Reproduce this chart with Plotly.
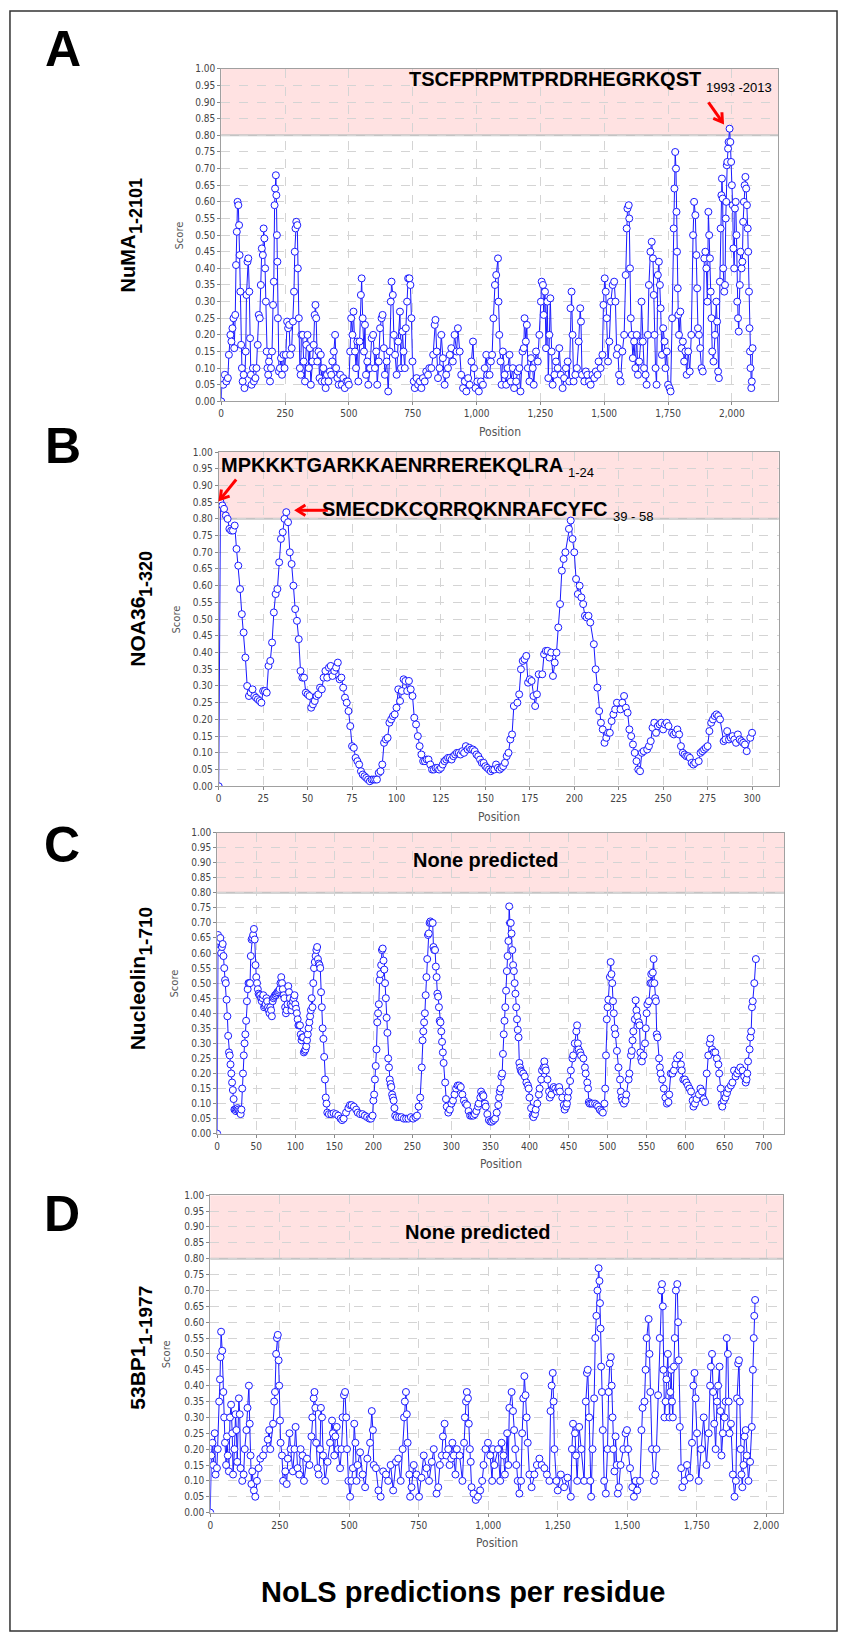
import math
import plotly.graph_objects as go

W, H = 842, 1642

# ---------------- data (position, score) ----------------
numa_points = [
    (0, 0.0), (3, 0.07), (8, 0.05), (14, 0.08), (20, 0.06), (26, 0.07), (30, 0.14), (36, 0.20), (40, 0.18),
    (44, 0.22), (48, 0.25), (51, 0.16), (55, 0.26), (58, 0.41), (61, 0.51), (64, 0.60), (67, 0.59), (70, 0.53),
    (72, 0.44), (75, 0.33), (78, 0.17), (81, 0.10), (84, 0.06), (88, 0.08), (91, 0.04), (96, 0.15), (99, 0.32),
    (103, 0.42), (106, 0.43), (110, 0.33), (113, 0.19), (116, 0.08), (119, 0.05), (124, 0.10), (128, 0.06),
    (134, 0.07), (138, 0.10), (143, 0.17), (147, 0.26), (151, 0.25), (155, 0.35), (159, 0.46), (163, 0.44),
    (166, 0.52), (169, 0.49), (172, 0.40), (175, 0.30), (178, 0.15), (181, 0.10), (184, 0.08), (187, 0.12),
    (191, 0.06), (195, 0.10), (199, 0.15), (203, 0.29), (206, 0.36), (209, 0.59), (211, 0.64), (214, 0.68),
    (216, 0.62), (218, 0.50), (220, 0.42), (222, 0.25), (226, 0.09), (230, 0.10), (234, 0.13), (238, 0.08),
    (244, 0.14), (248, 0.10), (253, 0.14), (258, 0.24), (262, 0.22), (266, 0.23), (270, 0.14), (276, 0.16),
    (281, 0.24), (285, 0.33), (288, 0.45), (291, 0.52), (294, 0.54), (298, 0.53), (300, 0.40), (304, 0.25),
    (308, 0.10), (311, 0.08), (314, 0.20), (319, 0.20), (323, 0.12), (328, 0.06), (333, 0.17), (338, 0.20),
    (343, 0.10), (347, 0.16), (351, 0.05), (357, 0.12), (362, 0.17), (366, 0.26), (369, 0.29), (372, 0.25),
    (376, 0.12), (381, 0.15), (385, 0.07), (390, 0.14), (394, 0.06), (400, 0.10), (405, 0.06), (409, 0.04),
    (414, 0.08), (420, 0.06), (426, 0.09), (431, 0.08), (435, 0.12), (441, 0.15), (446, 0.20), (450, 0.10),
    (455, 0.07), (460, 0.05), (466, 0.08), (472, 0.05), (478, 0.07), (484, 0.04), (490, 0.06), (496, 0.06),
    (500, 0.05), (505, 0.15), (509, 0.25), (514, 0.20), (518, 0.27), (524, 0.15), (528, 0.10), (533, 0.18),
    (537, 0.06), (542, 0.18), (547, 0.32), (550, 0.37), (554, 0.25), (559, 0.15), (563, 0.23), (567, 0.08),
    (572, 0.12), (576, 0.05), (583, 0.10), (589, 0.19), (595, 0.20), (602, 0.10), (607, 0.15), (611, 0.05),
    (617, 0.12), (622, 0.22), (628, 0.25), (632, 0.26), (637, 0.16), (641, 0.08), (648, 0.12), (654, 0.03),
    (660, 0.15), (664, 0.30), (667, 0.36), (672, 0.32), (676, 0.20), (681, 0.14), (687, 0.08), (693, 0.18),
    (700, 0.27), (704, 0.10), (710, 0.21), (714, 0.15), (719, 0.10), (723, 0.22), (728, 0.30), (732, 0.37),
    (737, 0.37), (741, 0.35), (745, 0.25), (749, 0.12), (754, 0.06), (758, 0.04), (765, 0.07), (771, 0.05),
    (778, 0.06), (784, 0.04), (790, 0.07), (797, 0.06), (803, 0.09), (810, 0.08), (815, 0.10), (823, 0.10),
    (830, 0.14), (836, 0.23), (839, 0.245), (844, 0.15), (849, 0.07), (855, 0.10), (862, 0.20), (868, 0.13),
    (875, 0.05), (881, 0.08), (888, 0.10), (895, 0.14), (901, 0.16), (907, 0.12), (914, 0.20), (922, 0.15),
    (927, 0.22), (934, 0.15), (940, 0.08), (947, 0.04), (954, 0.06), (960, 0.03), (967, 0.07), (973, 0.05),
    (980, 0.12), (986, 0.18), (990, 0.10), (996, 0.04), (1003, 0.06), (1009, 0.03), (1017, 0.06), (1025, 0.05),
    (1032, 0.10), (1038, 0.14), (1042, 0.08), (1051, 0.08), (1056, 0.12), (1061, 0.14), (1066, 0.25),
    (1072, 0.35), (1077, 0.38), (1084, 0.43), (1086, 0.30), (1089, 0.20), (1094, 0.12), (1098, 0.05),
    (1103, 0.15), (1110, 0.08), (1116, 0.05), (1122, 0.10), (1129, 0.14), (1134, 0.06), (1142, 0.10),
    (1147, 0.04), (1155, 0.06), (1161, 0.09), (1168, 0.10), (1172, 0.03), (1180, 0.15), (1185, 0.16),
    (1188, 0.25), (1193, 0.18), (1197, 0.23), (1201, 0.10), (1207, 0.06), (1213, 0.13), (1220, 0.10),
    (1224, 0.05), (1233, 0.15), (1240, 0.12), (1246, 0.20), (1252, 0.30), (1255, 0.36), (1260, 0.35),
    (1263, 0.26), (1268, 0.33), (1272, 0.16), (1277, 0.30), (1281, 0.07), (1285, 0.20), (1289, 0.31),
    (1294, 0.15), (1298, 0.05), (1305, 0.08), (1311, 0.12), (1318, 0.10), (1324, 0.16), (1330, 0.08),
    (1337, 0.04), (1343, 0.07), (1350, 0.10), (1357, 0.12), (1363, 0.06), (1368, 0.28), (1372, 0.33),
    (1376, 0.20), (1380, 0.06), (1387, 0.08), (1393, 0.10), (1400, 0.18), (1406, 0.28), (1409, 0.24),
    (1413, 0.08), (1422, 0.06), (1428, 0.09), (1434, 0.08), (1440, 0.06), (1447, 0.05), (1454, 0.08),
    (1461, 0.07), (1467, 0.09), (1474, 0.08), (1478, 0.12), (1486, 0.10), (1493, 0.14), (1497, 0.29),
    (1502, 0.37), (1506, 0.33), (1510, 0.25), (1515, 0.12), (1520, 0.18), (1526, 0.30), (1533, 0.35),
    (1539, 0.36), (1544, 0.30), (1549, 0.14), (1553, 0.16), (1558, 0.08), (1564, 0.06), (1571, 0.15),
    (1578, 0.20), (1584, 0.38), (1588, 0.52), (1591, 0.58), (1596, 0.59), (1598, 0.55), (1601, 0.40),
    (1604, 0.25), (1608, 0.20), (1612, 0.13), (1617, 0.18), (1622, 0.10), (1627, 0.20), (1632, 0.08),
    (1637, 0.12), (1643, 0.18), (1646, 0.30), (1651, 0.18), (1656, 0.10), (1662, 0.08), (1666, 0.05),
    (1671, 0.20), (1675, 0.35), (1681, 0.45), (1686, 0.48), (1691, 0.43), (1694, 0.32), (1697, 0.20),
    (1701, 0.10), (1705, 0.05), (1710, 0.38), (1714, 0.42), (1718, 0.35), (1721, 0.28), (1726, 0.14),
    (1731, 0.22), (1736, 0.18), (1740, 0.10), (1745, 0.15), (1750, 0.05), (1756, 0.04), (1760, 0.03),
    (1766, 0.25), (1772, 0.52), (1775, 0.64), (1778, 0.75), (1781, 0.70), (1783, 0.57), (1785, 0.45),
    (1788, 0.34), (1790, 0.26), (1793, 0.20), (1798, 0.27), (1803, 0.16), (1808, 0.18), (1813, 0.12),
    (1818, 0.15), (1823, 0.08), (1829, 0.15), (1835, 0.09), (1841, 0.20), (1848, 0.50), (1852, 0.60),
    (1857, 0.56), (1861, 0.44), (1864, 0.34), (1867, 0.22), (1871, 0.20), (1876, 0.16), (1881, 0.10),
    (1886, 0.09), (1892, 0.43), (1896, 0.45), (1900, 0.40), (1904, 0.30), (1908, 0.57), (1911, 0.50),
    (1914, 0.43), (1917, 0.33), (1920, 0.25), (1923, 0.15), (1928, 0.12), (1934, 0.20), (1939, 0.30),
    (1942, 0.24), (1946, 0.09), (1949, 0.07), (1953, 0.36), (1956, 0.52), (1959, 0.62), (1961, 0.67),
    (1964, 0.61), (1966, 0.40), (1970, 0.33), (1973, 0.35), (1976, 0.55), (1978, 0.60), (1980, 0.71),
    (1982, 0.72), (1985, 0.76), (1987, 0.78), (1991, 0.82), (1994, 0.78), (1997, 0.72), (2000, 0.65),
    (2003, 0.59), (2006, 0.46), (2009, 0.40), (2012, 0.58), (2015, 0.60), (2018, 0.50), (2021, 0.30),
    (2024, 0.25), (2027, 0.21), (2031, 0.35), (2034, 0.45), (2038, 0.40), (2041, 0.42), (2044, 0.54),
    (2047, 0.60), (2050, 0.65), (2053, 0.675), (2056, 0.64), (2059, 0.59), (2062, 0.52), (2064, 0.45),
    (2067, 0.33), (2069, 0.22), (2071, 0.15), (2073, 0.10), (2076, 0.04), (2078, 0.06), (2081, 0.16),
]

# NOA36: one score per residue, residues not plotted listed separately
noa36_skipped = [167, 181, 196, 210, 225, 240, 254, 269, 283, 298]
noa36_scores = [
    0.0, 0.85, 0.84, 0.83, 0.81, 0.80, 0.77, 0.765, 0.765, 0.78,
    0.71, 0.66, 0.59, 0.515, 0.46, 0.385, 0.30, 0.27, 0.28, 0.29,
    0.27, 0.265, 0.26, 0.255, 0.25, 0.285, 0.285, 0.28, 0.36, 0.375,
    0.43, 0.52, 0.575, 0.59, 0.67, 0.74, 0.76, 0.80, 0.82, 0.79,
    0.70, 0.665, 0.60, 0.53, 0.495, 0.44, 0.345, 0.325, 0.325, 0.28,
    0.275, 0.27, 0.235, 0.245, 0.255, 0.27, 0.275, 0.295, 0.29, 0.325,
    0.345, 0.325, 0.355, 0.36, 0.33, 0.345, 0.355, 0.37, 0.32, 0.325,
    0.295, 0.265, 0.25, 0.225, 0.18, 0.12, 0.115, 0.085, 0.075, 0.065,
    0.045, 0.035, 0.03, 0.025, 0.02, 0.015, 0.02, 0.02, 0.02, 0.02,
    0.04, 0.045, 0.065, 0.13, 0.14, 0.145, 0.19, 0.20, 0.21, 0.215,
    0.235, 0.29, 0.255, 0.285, 0.32, 0.315, 0.285, 0.315, 0.29, 0.27,
    0.205, 0.185, 0.15, 0.12, 0.095, 0.075, 0.075, 0.08, 0.08, 0.065,
    0.05, 0.05, 0.055, 0.055, 0.05, 0.055, 0.065, 0.075, 0.08, 0.085,
    0.085, 0.08, 0.09, 0.095, 0.10, 0.10, 0.095, 0.105, 0.10, 0.12,
    0.11, 0.115, 0.11, 0.11, 0.105, 0.095, 0.09, 0.08, 0.07, 0.07,
    0.06, 0.055, 0.05, 0.045, 0.05, 0.05, 0.065, 0.055, 0.05, 0.055,
    0.06, 0.07, 0.09, 0.10, 0.14, 0.155, 0.24, 0.25, 0.275, 0.35,
    0.375, 0.38, 0.39, 0.31, 0.32, 0.315, 0.27, 0.24, 0.275, 0.335,
    0.335, 0.395, 0.405, 0.405, 0.385, 0.40, 0.33, 0.37, 0.40, 0.475,
    0.545, 0.645, 0.68, 0.70, 0.77, 0.795, 0.74, 0.70, 0.62, 0.575,
    0.60, 0.565, 0.545, 0.51, 0.505, 0.51, 0.49, 0.425, 0.35, 0.295,
    0.225, 0.19, 0.17, 0.13, 0.145, 0.16, 0.16, 0.195, 0.215, 0.23,
    0.25, 0.23, 0.25, 0.27, 0.235, 0.22, 0.17, 0.15, 0.125, 0.10,
    0.075, 0.05, 0.045, 0.10, 0.105, 0.11, 0.12, 0.135, 0.175, 0.19,
    0.16, 0.18, 0.185, 0.19, 0.17, 0.185, 0.19, 0.18, 0.16, 0.155,
    0.16, 0.17, 0.155, 0.12, 0.10, 0.095, 0.09, 0.09, 0.085, 0.07,
    0.065, 0.07, 0.075, 0.10, 0.105, 0.11, 0.115, 0.12, 0.165, 0.19,
    0.20, 0.21, 0.215, 0.21, 0.20, 0.135, 0.14, 0.165, 0.14, 0.145,
    0.15, 0.14, 0.13, 0.155, 0.14, 0.135, 0.13, 0.125, 0.105, 0.145,
    0.16,
]

nucleolin_points = [
    (0, 0.0), (1, 0.66), (2, 0.64), (3, 0.61), (4, 0.65), (5, 0.60), (6, 0.62), (7, 0.63), (8, 0.59),
    (9, 0.55), (10, 0.51), (11, 0.50), (12, 0.445), (13, 0.39), (14, 0.325), (15, 0.27), (16, 0.26),
    (17, 0.23), (18, 0.20), (19, 0.17), (20, 0.145), (21, 0.115), (22, 0.08), (23, 0.08), (24, 0.075),
    (25, 0.08), (26, 0.085), (27, 0.08), (28, 0.075), (29, 0.07), (30, 0.065), (31, 0.08), (32, 0.15),
    (33, 0.20), (34, 0.26), (35, 0.30), (36, 0.33), (37, 0.375), (38, 0.44), (39, 0.48), (40, 0.50),
    (41, 0.50), (42, 0.50), (43, 0.59), (44, 0.645), (45, 0.65), (46, 0.66), (47, 0.68), (48, 0.645),
    (49, 0.56), (50, 0.52), (51, 0.50), (52, 0.48), (53, 0.465), (54, 0.46), (55, 0.46), (56, 0.45),
    (57, 0.44), (58, 0.45), (59, 0.46), (60, 0.42), (61, 0.425), (62, 0.43), (63, 0.45), (64, 0.44),
    (65, 0.42), (66, 0.41), (67, 0.40), (68, 0.42), (69, 0.41), (70, 0.39), (71, 0.44), (72, 0.45),
    (73, 0.455), (74, 0.46), (75, 0.46), (76, 0.465), (77, 0.47), (78, 0.47), (79, 0.475), (80, 0.48),
    (81, 0.50), (82, 0.52), (83, 0.50), (84, 0.48), (85, 0.46), (86, 0.45), (87, 0.42), (88, 0.40),
    (89, 0.41), (90, 0.43), (91, 0.49), (92, 0.47), (93, 0.45), (94, 0.43), (95, 0.41), (96, 0.425),
    (97, 0.44), (98, 0.45), (99, 0.46), (100, 0.43), (101, 0.415), (102, 0.40), (103, 0.38), (104, 0.36),
    (105, 0.36), (106, 0.36), (107, 0.33), (108, 0.31), (109, 0.32), (110, 0.32), (111, 0.27), (112, 0.275),
    (113, 0.28), (114, 0.29), (115, 0.31), (116, 0.33), (117, 0.35), (118, 0.37), (119, 0.39), (120, 0.41),
    (121, 0.45), (122, 0.42), (123, 0.50), (124, 0.55), (125, 0.57), (126, 0.59), (127, 0.61), (128, 0.62),
    (129, 0.58), (130, 0.565), (131, 0.56), (132, 0.55), (133, 0.47), (134, 0.42), (135, 0.35), (136, 0.315),
    (137, 0.255), (138, 0.18), (139, 0.12), (140, 0.10), (141, 0.07), (143, 0.065), (146, 0.065),
    (149, 0.068), (152, 0.065), (155, 0.06), (158, 0.05), (160, 0.045), (162, 0.05), (165, 0.07),
    (168, 0.085), (170, 0.095), (172, 0.095), (175, 0.09), (178, 0.08), (180, 0.07), (183, 0.065),
    (186, 0.065), (189, 0.06), (192, 0.055), (195, 0.05), (197, 0.05), (199, 0.06), (200, 0.11),
    (201, 0.13), (202, 0.18), (203, 0.225), (204, 0.28), (205, 0.37), (206, 0.40), (207, 0.43), (208, 0.51),
    (209, 0.53), (210, 0.56), (211, 0.61), (212, 0.615), (213, 0.575), (214, 0.545), (215, 0.50),
    (216, 0.45), (217, 0.385), (218, 0.335), (219, 0.25), (220, 0.22), (221, 0.18), (222, 0.165),
    (223, 0.155), (224, 0.13), (225, 0.12), (226, 0.11), (227, 0.085), (228, 0.06), (230, 0.055),
    (233, 0.055), (236, 0.055), (239, 0.05), (242, 0.05), (245, 0.05), (248, 0.055), (251, 0.05),
    (254, 0.055), (256, 0.06), (258, 0.09), (260, 0.12), (262, 0.22), (263, 0.31), (264, 0.34), (265, 0.37),
    (266, 0.40), (267, 0.46), (268, 0.52), (269, 0.58), (270, 0.66), (271, 0.665), (272, 0.70), (273, 0.705),
    (274, 0.70), (276, 0.70), (277, 0.62), (278, 0.61), (279, 0.61), (280, 0.555), (281, 0.52), (282, 0.465),
    (283, 0.455), (284, 0.42), (285, 0.375), (286, 0.37), (287, 0.34), (288, 0.305), (289, 0.27),
    (290, 0.235), (292, 0.17), (293, 0.115), (294, 0.09), (296, 0.07), (298, 0.08), (300, 0.10),
    (302, 0.11), (304, 0.13), (306, 0.15), (308, 0.16), (310, 0.16), (312, 0.155), (314, 0.13), (316, 0.11),
    (318, 0.10), (320, 0.095), (322, 0.075), (324, 0.06), (326, 0.06), (328, 0.06), (330, 0.065),
    (332, 0.075), (334, 0.09), (335, 0.10), (337, 0.12), (338, 0.14), (340, 0.13), (341, 0.125),
    (343, 0.10), (344, 0.09), (346, 0.065), (348, 0.045), (350, 0.04), (352, 0.04), (354, 0.045),
    (356, 0.05), (358, 0.07), (360, 0.095), (361, 0.12), (362, 0.14), (363, 0.15), (364, 0.19), (365, 0.20),
    (366, 0.265), (367, 0.33), (368, 0.375), (369, 0.42), (370, 0.475), (371, 0.54), (372, 0.59),
    (373, 0.64), (374, 0.755), (375, 0.70), (376, 0.70), (377, 0.665), (378, 0.61), (379, 0.56), (380, 0.54),
    (381, 0.50), (382, 0.465), (383, 0.42), (384, 0.38), (385, 0.345), (386, 0.32), (387, 0.235),
    (388, 0.22), (389, 0.21), (390, 0.205), (392, 0.20), (394, 0.19), (396, 0.17), (398, 0.16), (399, 0.15),
    (400, 0.12), (402, 0.085), (404, 0.06), (405, 0.055), (407, 0.065), (408, 0.08), (410, 0.10),
    (412, 0.13), (413, 0.15), (415, 0.18), (416, 0.21), (418, 0.22), (419, 0.24), (420, 0.22), (421, 0.21),
    (423, 0.18), (425, 0.14), (426, 0.12), (428, 0.13), (430, 0.15), (431, 0.155), (433, 0.15), (435, 0.14),
    (437, 0.15), (438, 0.155), (439, 0.14), (442, 0.12), (444, 0.095), (445, 0.08), (447, 0.09), (448, 0.10),
    (449, 0.12), (450, 0.14), (452, 0.175), (453, 0.21), (455, 0.25), (456, 0.26), (458, 0.30), (460, 0.34),
    (461, 0.36), (462, 0.30), (463, 0.28), (465, 0.27), (466, 0.26), (469, 0.25), (471, 0.22), (472, 0.20),
    (474, 0.17), (475, 0.15), (476, 0.105), (477, 0.10), (479, 0.10), (481, 0.10), (484, 0.10), (486, 0.095),
    (488, 0.09), (490, 0.08), (492, 0.075), (494, 0.07), (496, 0.10), (497, 0.15), (498, 0.26), (499, 0.38),
    (500, 0.42), (501, 0.445), (503, 0.52), (504, 0.57), (505, 0.53), (506, 0.50), (507, 0.44), (508, 0.40),
    (509, 0.35), (510, 0.33), (512, 0.275), (514, 0.22), (516, 0.18), (517, 0.14), (518, 0.12), (519, 0.11),
    (521, 0.10), (523, 0.11), (524, 0.13), (527, 0.18), (528, 0.20), (530, 0.26), (531, 0.275), (532, 0.31),
    (533, 0.34), (535, 0.38), (536, 0.443), (537, 0.41), (538, 0.39), (540, 0.37), (541, 0.36), (542, 0.27),
    (543, 0.25), (544, 0.24), (546, 0.26), (548, 0.30), (549, 0.35), (550, 0.40), (551, 0.43), (553, 0.44),
    (555, 0.50), (556, 0.53), (557, 0.50), (558, 0.535), (559, 0.58), (560, 0.50), (561, 0.45), (562, 0.44),
    (563, 0.33), (564, 0.32), (566, 0.25), (567, 0.22), (568, 0.20), (570, 0.18), (572, 0.15), (574, 0.12),
    (576, 0.10), (578, 0.105), (579, 0.13), (581, 0.20), (583, 0.20), (585, 0.21), (587, 0.23), (589, 0.25),
    (592, 0.26), (594, 0.23), (595, 0.21), (597, 0.18), (599, 0.18), (601, 0.17), (603, 0.16), (605, 0.15),
    (607, 0.14), (609, 0.11), (610, 0.09), (612, 0.10), (614, 0.115), (617, 0.13), (619, 0.15), (621, 0.14),
    (623, 0.115), (625, 0.105), (627, 0.20), (629, 0.26), (631, 0.30), (632, 0.316), (634, 0.28),
    (636, 0.27), (638, 0.27), (640, 0.25), (642, 0.23), (643, 0.20), (645, 0.15), (646, 0.10), (647, 0.09),
    (649, 0.11), (651, 0.12), (653, 0.135), (655, 0.15), (658, 0.16), (660, 0.17), (662, 0.21), (664, 0.19),
    (666, 0.20), (668, 0.21), (670, 0.22), (673, 0.21), (675, 0.19), (677, 0.17), (678, 0.18), (679, 0.20),
    (680, 0.24), (682, 0.28), (683, 0.32), (684, 0.34), (685, 0.42), (686, 0.44), (688, 0.50), (690, 0.58),
]

bp53_points = [
    (0, 0.0), (4, 0.18), (8, 0.22), (11, 0.15), (16, 0.25), (19, 0.12), (24, 0.14), (27, 0.20), (32, 0.35),
    (35, 0.42), (37, 0.49), (39, 0.57), (43, 0.51), (47, 0.38), (50, 0.30), (53, 0.22), (57, 0.15),
    (60, 0.24), (63, 0.18), (67, 0.13), (71, 0.30), (75, 0.34), (79, 0.25), (82, 0.12), (87, 0.20),
    (91, 0.31), (94, 0.26), (97, 0.16), (103, 0.36), (106, 0.31), (109, 0.14), (115, 0.10), (120, 0.12),
    (124, 0.20), (130, 0.26), (134, 0.33), (139, 0.40), (142, 0.28), (145, 0.18), (148, 0.09), (151, 0.13),
    (157, 0.07), (162, 0.05), (168, 0.10), (174, 0.14), (180, 0.17), (190, 0.18), (198, 0.20), (207, 0.23),
    (212, 0.26), (216, 0.20), (226, 0.28), (230, 0.35), (233, 0.38), (237, 0.50), (240, 0.55), (243, 0.56),
    (246, 0.48), (248, 0.40), (251, 0.29), (253, 0.22), (258, 0.18), (262, 0.10), (270, 0.13), (275, 0.09),
    (279, 0.17), (285, 0.25), (289, 0.20), (297, 0.13), (303, 0.20), (307, 0.27), (314, 0.14), (320, 0.12),
    (325, 0.20), (332, 0.18), (337, 0.10), (348, 0.17), (357, 0.15), (364, 0.24), (367, 0.30), (372, 0.36),
    (375, 0.38), (378, 0.33), (381, 0.22), (386, 0.14), (390, 0.12), (395, 0.20), (398, 0.33), (402, 0.30),
    (406, 0.18), (413, 0.10), (422, 0.16), (431, 0.22), (438, 0.29), (441, 0.25), (446, 0.18), (450, 0.24),
    (455, 0.27), (459, 0.20), (467, 0.14), (472, 0.20), (476, 0.30), (481, 0.37), (485, 0.38), (489, 0.30),
    (492, 0.20), (497, 0.10), (503, 0.05), (508, 0.10), (513, 0.14), (518, 0.28), (522, 0.22), (526, 0.10),
    (530, 0.15), (539, 0.19), (548, 0.12), (557, 0.08), (565, 0.17), (575, 0.22), (581, 0.32), (585, 0.26),
    (588, 0.15), (596, 0.14), (605, 0.07), (613, 0.05), (622, 0.13), (632, 0.12), (640, 0.10), (649, 0.15),
    (658, 0.07), (668, 0.16), (676, 0.17), (685, 0.10), (692, 0.20), (697, 0.30), (700, 0.35), (704, 0.38),
    (707, 0.31), (710, 0.22), (716, 0.12), (719, 0.05), (724, 0.08), (732, 0.15), (742, 0.12), (751, 0.05),
    (760, 0.11), (768, 0.18), (778, 0.14), (787, 0.10), (797, 0.16), (804, 0.20), (814, 0.06), (820, 0.08),
    (826, 0.15), (833, 0.18), (837, 0.24), (843, 0.28), (849, 0.18), (856, 0.20), (861, 0.15), (867, 0.17),
    (871, 0.22), (876, 0.18), (882, 0.12), (887, 0.20), (897, 0.18), (907, 0.10), (913, 0.22), (916, 0.30),
    (920, 0.35), (923, 0.38), (927, 0.36), (930, 0.28), (934, 0.20), (937, 0.16), (940, 0.08), (947, 0.06),
    (955, 0.04), (963, 0.05), (971, 0.07), (978, 0.10), (983, 0.15), (990, 0.20), (999, 0.22), (1007, 0.18),
    (1014, 0.10), (1017, 0.20), (1022, 0.15), (1035, 0.20), (1043, 0.10), (1048, 0.22), (1055, 0.18),
    (1060, 0.12), (1068, 0.25), (1072, 0.15), (1076, 0.33), (1084, 0.38), (1089, 0.32), (1093, 0.26),
    (1097, 0.20), (1101, 0.15), (1106, 0.10), (1112, 0.06), (1118, 0.10), (1122, 0.25), (1126, 0.36),
    (1130, 0.43), (1134, 0.37), (1138, 0.30), (1142, 0.22), (1148, 0.12), (1156, 0.08), (1166, 0.12),
    (1175, 0.15), (1184, 0.17), (1192, 0.15), (1202, 0.14), (1211, 0.12), (1220, 0.10), (1224, 0.32),
    (1228, 0.40), (1232, 0.44), (1235, 0.35), (1238, 0.20), (1245, 0.10), (1250, 0.07), (1261, 0.12),
    (1273, 0.08), (1285, 0.11), (1297, 0.05), (1301, 0.20), (1305, 0.28), (1312, 0.25), (1316, 0.18),
    (1320, 0.10), (1327, 0.27), (1335, 0.20), (1345, 0.10), (1351, 0.35), (1355, 0.44), (1358, 0.45),
    (1363, 0.30), (1367, 0.10), (1370, 0.05), (1375, 0.20), (1381, 0.36), (1385, 0.55), (1389, 0.62),
    (1393, 0.70), (1397, 0.77), (1400, 0.73), (1402, 0.66), (1404, 0.58), (1406, 0.46), (1409, 0.38),
    (1412, 0.26), (1417, 0.10), (1423, 0.06), (1429, 0.20), (1433, 0.38), (1437, 0.47), (1441, 0.49),
    (1444, 0.40), (1447, 0.30), (1450, 0.20), (1454, 0.13), (1458, 0.24), (1462, 0.15), (1466, 0.06),
    (1470, 0.08), (1476, 0.15), (1486, 0.20), (1494, 0.25), (1499, 0.26), (1503, 0.20), (1510, 0.14),
    (1518, 0.08), (1524, 0.05), (1530, 0.10), (1536, 0.07), (1546, 0.10), (1551, 0.26), (1555, 0.33),
    (1562, 0.35), (1566, 0.45), (1570, 0.55), (1577, 0.61), (1580, 0.50), (1583, 0.38), (1589, 0.20),
    (1596, 0.10), (1601, 0.12), (1605, 0.20), (1611, 0.37), (1617, 0.55), (1622, 0.70), (1625, 0.72),
    (1628, 0.65), (1630, 0.45), (1634, 0.30), (1638, 0.35), (1641, 0.42), (1646, 0.50), (1652, 0.30),
    (1655, 0.38), (1658, 0.45), (1661, 0.35), (1664, 0.30), (1668, 0.46), (1671, 0.55), (1675, 0.70),
    (1680, 0.72), (1683, 0.60), (1685, 0.48), (1689, 0.27), (1694, 0.14), (1698, 0.08), (1706, 0.10),
    (1715, 0.15), (1725, 0.11), (1733, 0.22), (1738, 0.40), (1742, 0.44), (1746, 0.36), (1751, 0.25),
    (1757, 0.10), (1766, 0.20), (1775, 0.30), (1785, 0.15), (1793, 0.25), (1798, 0.40), (1801, 0.46),
    (1805, 0.50), (1809, 0.38), (1813, 0.28), (1818, 0.20), (1823, 0.35), (1827, 0.40), (1832, 0.46),
    (1835, 0.32), (1839, 0.18), (1844, 0.25), (1850, 0.30), (1854, 0.35), (1858, 0.55), (1862, 0.50),
    (1865, 0.35), (1868, 0.25), (1873, 0.28), (1880, 0.12), (1886, 0.05), (1891, 0.10), (1895, 0.36),
    (1899, 0.47), (1902, 0.48), (1905, 0.35), (1908, 0.20), (1911, 0.12), (1914, 0.08), (1918, 0.15),
    (1922, 0.24), (1926, 0.26), (1930, 0.18), (1936, 0.10), (1942, 0.16), (1948, 0.27), (1952, 0.45),
    (1955, 0.55), (1957, 0.62), (1960, 0.67),
]

panel_letters = ["A", "B", "C", "D"]
protein_names = ["NuMA", "NOA36", "Nucleolin", "53BP1"]
protein_ranges = ["1-2101", "1-320", "1-710", "1-1977"]
x_tick_steps = [250, 25, 50, 250]
threshold = 0.8

noa36_pos = [p for p in range(301) if p not in noa36_skipped]
series = [
    ([p for p, _ in numa_points], [s for _, s in numa_points]),
    (noa36_pos, noa36_scores),
    ([p for p, _ in nucleolin_points], [s for _, s in nucleolin_points]),
    ([p for p, _ in bp53_points], [s for _, s in bp53_points]),
]

# ---------------- layout geometry (pixels in the 842x1642 page) ----------------
# (left, right, top(y=1), bottom(y=0), x-range max)
boxes = [
    (219, 778, 63.3, 398.3, 2181.5),
    (216.5, 778.5, 449.3, 786.0, 315.0),
    (215, 784, 832.7, 1136.0, 726.3),
    (208, 782.7, 1198.0, 1517.7, 2060.0),
]
letter_xy = [(60, 43), (60, 443), (59, 845), (59, 1217)]
# rotated protein label: (x centre, y of the text start (bottom), main font, subscript font)
name_geom = [(125, 290, 20, 18), (135, 667, 21, 18), (135, 1053, 21, 19), (135, 1415, 21, 19)]
score_x = [177, 174, 172, 165]

# Liberation Sans Bold advance widths (em) for label glyphs
BOLD_W = {"N": .722, "u": .611, "M": .833, "A": .722, "O": .778, "3": .556, "6": .556, "c": .556,
          "l": .278, "e": .556, "o": .611, "i": .278, "n": .611, "5": .556, "B": .722, "P": .667,
          "1": .556, "-": .333, "2": .556, "0": .556, "7": .556, "9": .556}


def text_len(s, size):
    return sum(BOLD_W.get(ch, .6) for ch in s) * size


def fx(p):
    return p / W


def fy(p):
    return 1 - p / H


fig = go.Figure()
BLUE = "#1a1aff"
TICKFONT = dict(family="DejaVu Sans Condensed, Liberation Sans Narrow, DejaVu Sans", size=10, color="#444")
BOLD = "Liberation Sans, Arial, sans-serif"

annotations = []
shapes = []

for i, ((xs, ys), (l, r, t, b, xmax)) in enumerate(zip(series, boxes)):
    n = "" if i == 0 else str(i + 1)
    xa, ya = "x" + n, "y" + n
    fig.add_trace(go.Scatter(
        x=xs, y=ys, mode="lines+markers", xaxis=xa, yaxis=ya, showlegend=False,
        line=dict(color=BLUE, width=1),
        marker=dict(symbol="circle", size=7, color="white", line=dict(color=BLUE, width=1)),
        hoverinfo="skip",
    ))
    fig.layout["xaxis" + n] = dict(
        domain=[fx(l), fx(r)], range=[0, xmax], anchor=ya, dtick=x_tick_steps[i], tick0=0,
        tickformat=",d", showgrid=True, gridcolor="#d4d4d4", griddash="dash", gridwidth=1,
        showline=True, linecolor="#a0a0a0", linewidth=1, mirror=True, zeroline=False,
        ticks="outside", ticklen=3, tickcolor="#888", tickfont=TICKFONT,
    )
    fig.layout["yaxis" + n] = dict(
        domain=[fy(b), fy(t)], range=[0, 1], anchor=xa, dtick=0.05, tick0=0, tickformat=".2f",
        showgrid=True, gridcolor="#d4d4d4", griddash="dash", gridwidth=1,
        showline=True, linecolor="#a0a0a0", linewidth=1, mirror=True, zeroline=False,
        ticks="outside", ticklen=3, tickcolor="#888", tickfont=TICKFONT,
    )
    # predicted-NoLS band
    shapes.append(dict(type="rect", xref=xa + " domain", yref=ya, x0=0, x1=1, y0=threshold, y1=1,
                       fillcolor="rgb(255,226,226)", line=dict(width=0), layer="below"))
    shapes.append(dict(type="line", xref=xa + " domain", yref=ya, x0=0, x1=1, y0=threshold, y1=threshold,
                       line=dict(color="#c4c4c4", width=2), layer="below"))
    # panel letter
    lx, ly = letter_xy[i]
    annotations.append(dict(x=fx(lx), y=fy(ly), xref="paper", yref="paper", showarrow=False,
                            text="<b>%s</b>" % panel_letters[i], xanchor="center", yanchor="middle",
                            font=dict(family=BOLD, size=50, color="black")))
    # protein name (rotated) with its residue range as a lowered, smaller label
    nx, ny, fm, fs = name_geom[i]
    annotations.append(dict(x=fx(nx), y=fy(ny), xref="paper", yref="paper", showarrow=False, textangle=-90,
                            text="<b>%s</b>" % protein_names[i], xanchor="center", yanchor="bottom",
                            font=dict(family=BOLD, size=fm, color="black"), borderpad=0))
    sub_bottom = ny - text_len(protein_names[i], fm) - 1
    annotations.append(dict(x=fx(nx + 8), y=fy(sub_bottom), xref="paper", yref="paper", showarrow=False,
                            textangle=-90, text="<b>%s</b>" % protein_ranges[i], xanchor="center",
                            yanchor="bottom", font=dict(family=BOLD, size=fs, color="black"), borderpad=0))
    # Score / Position axis titles
    annotations.append(dict(x=fx(score_x[i]), y=fy((t + b) / 2), xref="paper", yref="paper", showarrow=False,
                            textangle=-90, text="Score", xanchor="center", yanchor="middle",
                            font=dict(family="DejaVu Sans", size=10, color="#555")))
    annotations.append(dict(x=fx((l + r) / 2), y=fy(b + 31), xref="paper", yref="paper", showarrow=False,
                            text="Position", xanchor="center", yanchor="middle",
                            font=dict(family="DejaVu Sans Condensed, DejaVu Sans", size=12, color="#555")))


def seq_label(text, sub, x_right, y_main, y_sub):
    annotations.append(dict(x=fx(x_right), y=fy(y_main), xref="paper", yref="paper", showarrow=False,
                            text="<b>%s</b>" % text, xanchor="right", yanchor="middle",
                            font=dict(family=BOLD, size=20, color="black")))
    annotations.append(dict(x=fx(x_right + 1), y=fy(y_sub), xref="paper", yref="paper", showarrow=False,
                            text=sub, xanchor="left", yanchor="middle",
                            font=dict(family=BOLD, size=13, color="black")))


def red_arrow(tip_x, tip_y, tail_x, tail_y, head=10, spread=32):
    shapes.append(dict(type="line", xref="paper", yref="paper", x0=fx(tail_x), y0=fy(tail_y),
                       x1=fx(tip_x), y1=fy(tip_y), line=dict(color="#ff0000", width=3), layer="above"))
    ang = math.atan2(tail_y - tip_y, tail_x - tip_x)
    pts = []
    for s in (-1, 1):
        a = ang + s * math.radians(spread)
        pts.append((tip_x + head * math.cos(a), tip_y + head * math.sin(a)))
    path = "M %f %f L %f %f L %f %f" % (fx(pts[0][0]), fy(pts[0][1]), fx(tip_x), fy(tip_y),
                                        fx(pts[1][0]), fy(pts[1][1]))
    shapes.append(dict(type="path", xref="paper", yref="paper", path=path,
                       line=dict(color="#ff0000", width=3), layer="above"))


seq_label("TSCFPRPMTPRDRHEGRKQST", "1993 -2013", 703, 74, 82)
red_arrow(722, 117, 708, 97)
seq_label("MPKKKTGARKKAENRREREKQLRA", "1-24", 564, 462, 470)
red_arrow(218, 497, 234, 477)
seq_label("SMECDKCQRRQKNRAFCYFC", "39 - 58", 609, 507, 514)
red_arrow(295, 508, 326, 508)

for cx, cy in [(485, 860), (477, 1235)]:
    annotations.append(dict(x=fx(cx), y=fy(cy), xref="paper", yref="paper", showarrow=False,
                            text="<b>None predicted</b>", xanchor="center", yanchor="middle",
                            font=dict(family=BOLD, size=20, color="black")))

annotations.append(dict(x=fx(462), y=fy(1598), xref="paper", yref="paper", showarrow=False,
                        text="<b>NoLS predictions per residue</b>", xanchor="center", yanchor="middle",
                        font=dict(family=BOLD, size=29, color="black")))

# outer frame
shapes.append(dict(type="rect", xref="paper", yref="paper", x0=fx(7), x1=fx(837), y0=fy(1637), y1=fy(5),
                   line=dict(color="#333", width=1.5), fillcolor="rgba(0,0,0,0)", layer="above"))

fig.update_layout(
    width=W, height=H, margin=dict(l=0, r=0, t=0, b=0),
    paper_bgcolor="white", plot_bgcolor="white",
    annotations=annotations, shapes=shapes, showlegend=False,
)

fig.write_html("out.html", config={"displayModeBar": False},
               post_script="document.body.style.margin='0';document.body.style.overflow='hidden';")
